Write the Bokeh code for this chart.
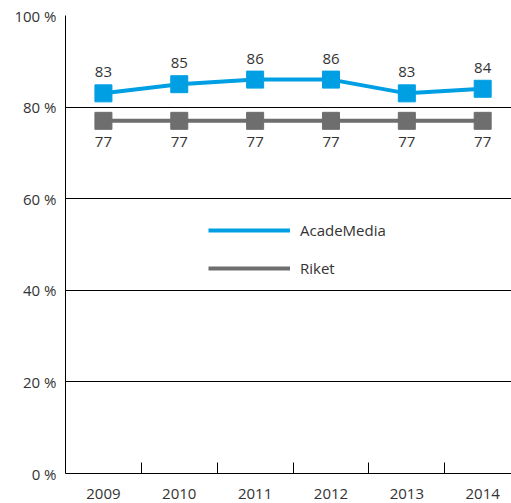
from bokeh.plotting import figure
from bokeh.models import (ColumnDataSource, Range1d, FixedTicker, Legend, LegendItem)
from bokeh.core.properties import value
from bokeh.embed import file_html
from bokeh.resources import INLINE

years = ["2009", "2010", "2011", "2012", "2013", "2014"]
academedia = [83, 85, 86, 86, 83, 84]
riket = [77, 77, 77, 77, 77, 77]
y_ticks = [0, 20, 40, 60, 80, 100]
y_tick_labels = ["0 %", "20 %", "40 %", "60 %", "80 %", "100 %"]

BLUE = "#009FE3"
GRAY = "#6E6E6E"
TXT = "#333333"
FONT = "Open Sans"

xs = list(range(len(years)))
src = ColumnDataSource(dict(x=xs, a=academedia, r=riket,
                            at=[str(v) for v in academedia],
                            rt=[str(v) for v in riket]))

p = figure(width=511, height=503, output_backend="svg", toolbar_location=None,
           x_range=Range1d(-0.5, 5.38), y_range=Range1d(0, 100),
           min_border_left=65, min_border_right=0, min_border_top=15, min_border_bottom=30)
p.outline_line_color = None
p.background_fill_color = "white"
p.border_fill_color = "white"

la = p.line("x", "a", source=src, line_color=BLUE, line_width=4)
lr = p.line("x", "r", source=src, line_color=GRAY, line_width=4)
p.scatter("x", "a", source=src, marker="square", size=17, fill_color=BLUE, line_color=BLUE)
p.scatter("x", "r", source=src, marker="square", size=17, fill_color=GRAY, line_color=GRAY)

p.text("x", "a", text="at", source=src, text_font=value(FONT), text_font_size="15px",
       text_color=TXT, text_align="center", text_baseline="middle", y_offset=-21)
p.text("x", "r", text="rt", source=src, text_font=value(FONT), text_font_size="15px",
       text_color=TXT, text_align="center", text_baseline="middle", y_offset=21)

# axes
xax = p.xaxis[0]
xax.ticker = FixedTicker(ticks=xs, minor_ticks=[i + 0.5 for i in xs[:-1]])
xax.major_label_overrides = {i: y for i, y in zip(xs, years)}
xax.major_tick_in = 0
xax.major_tick_out = 0
xax.minor_tick_in = 11
xax.minor_tick_out = 0
xax.minor_tick_line_color = "black"
xax.axis_line_color = "black"
xax.major_label_text_font = FONT
xax.major_label_text_font_size = "15px"
xax.major_label_text_color = TXT
xax.major_label_standoff = 15

yax = p.yaxis[0]
yax.ticker = FixedTicker(ticks=y_ticks)
yax.major_label_overrides = {t: l for t, l in zip(y_ticks, y_tick_labels)}
yax.major_tick_in = 0
yax.major_tick_out = 0
yax.minor_tick_line_color = None
yax.axis_line_color = "black"
yax.major_label_text_font = FONT
yax.major_label_text_font_size = "15px"
yax.major_label_text_color = TXT
yax.major_label_standoff = 9

p.xgrid.grid_line_color = None
p.ygrid.ticker = FixedTicker(ticks=y_ticks)
p.ygrid.grid_line_color = "black"
p.ygrid.grid_line_width = 1

legend = Legend(items=[LegendItem(label="AcadeMedia", renderers=[la]),
                       LegendItem(label="Riket", renderers=[lr])],
                location=(143, 195), orientation="vertical",
                padding=0, margin=0, spacing=18,
                glyph_width=82, glyph_height=20, label_height=20,
                label_standoff=10, label_text_font=FONT, label_text_font_size="15px",
                label_text_color=TXT, border_line_color=None, background_fill_alpha=0)
p.add_layout(legend, "center")

open("out.html", "w").write(file_html(p, INLINE))
